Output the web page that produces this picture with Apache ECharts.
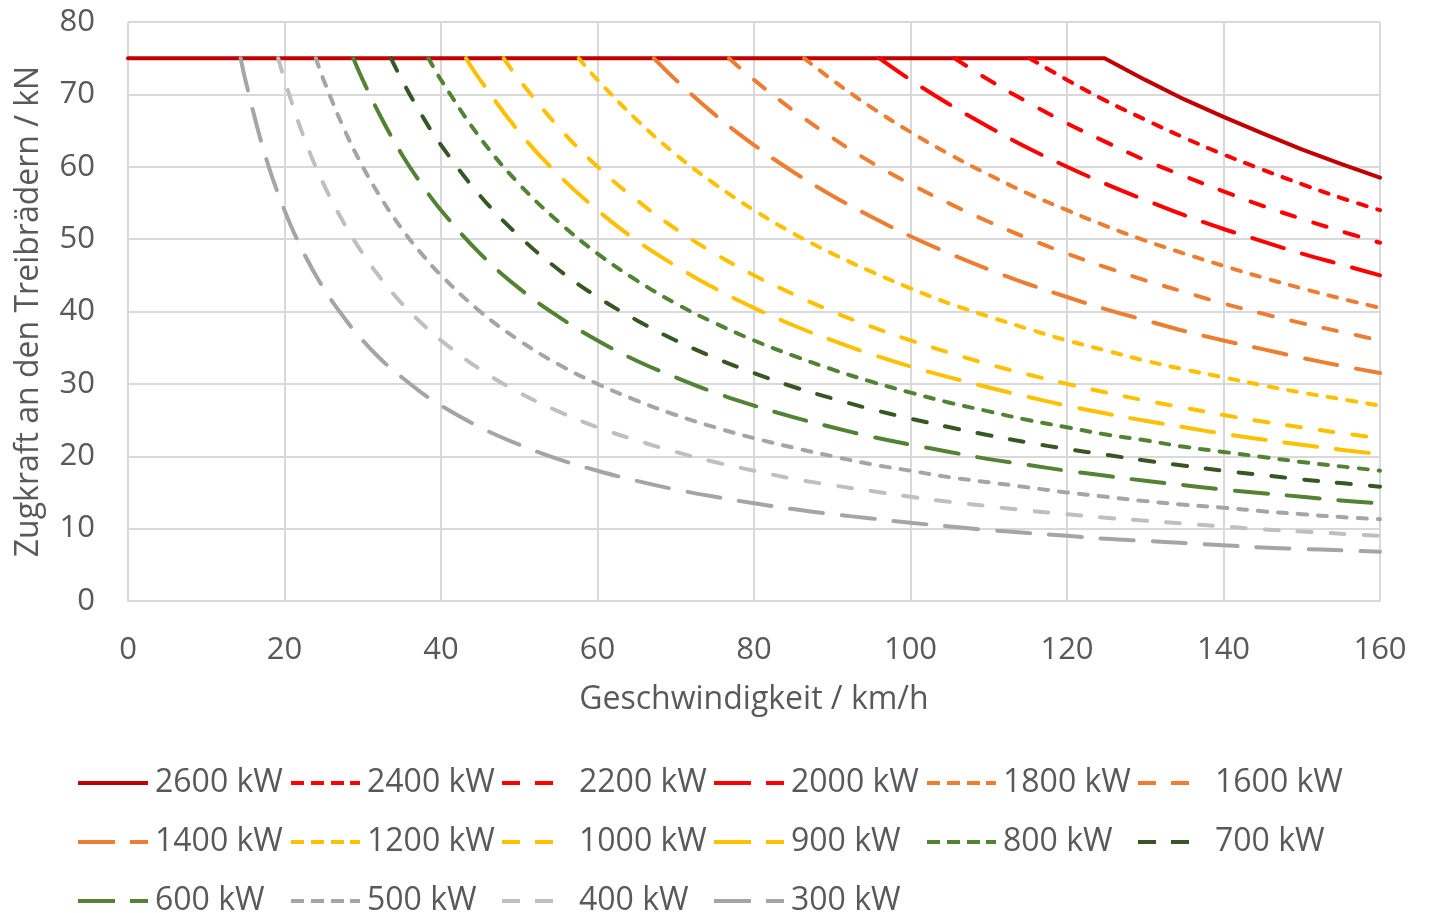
<!DOCTYPE html>
<html>
<head>
<meta charset="utf-8">
<script src="https://cdn.jsdelivr.net/npm/echarts@6/dist/echarts.min.js"></script>
<style>
html,body{margin:0;padding:0;background:#fff;}
#chart{width:1434px;height:913px;}
</style>
</head>
<body>
<div id="chart"></div>
<script>
// ---- data ----
const seriesNames = ['2600 kW','2400 kW','2200 kW','2000 kW','1800 kW','1600 kW','1400 kW','1200 kW','1000 kW','900 kW','800 kW','700 kW','600 kW','500 kW','400 kW','300 kW'];
const maxForce = 75;
const cornerSpeeds = [124.8,115.2,105.6,96,86.4,76.8,67.2,57.6,48,43.2,38.4,33.6,28.8,24,19.2,14.4];
const speeds = [15,17.5,20,22.5,25,27.5,30,32.5,35,37.5,40,45,50,55,60,65,70,75,80,85,90,95,100,105,110,115,120,125,130,135,140,145,150,155,160];
const xTicks = [0,20,40,60,80,100,120,140,160];
const yTicks = [0,10,20,30,40,50,60,70,80];

// tractive force values (kN), aligned with the END of `speeds`
const f2600 = [74.9,72.0,69.3,66.9,64.6,62.4,60.4,58.5];
const f2400 = [72.0,69.1,66.5,64.0,61.7,59.6,57.6,55.7,54.0];
const f2200 = [72.0,68.9,66.0,63.4,60.9,58.7,56.6,54.6,52.8,51.1,49.5];
const f2000 = [72.0,68.6,65.5,62.6,60.0,57.6,55.4,53.3,51.4,49.7,48.0,46.5,45.0];
const f1800 = [72.0,68.2,64.8,61.7,58.9,56.3,54.0,51.8,49.8,48.0,46.3,44.7,43.2,41.8,40.5];
const f1600 = [72.0,67.8,64.0,60.6,57.6,54.9,52.4,50.1,48.0,46.1,44.3,42.7,41.1,39.7,38.4,37.2,36.0];
const f1400 = [72.0,67.2,63.0,59.3,56.0,53.1,50.4,48.0,45.8,43.8,42.0,40.3,38.8,37.3,36.0,34.8,33.6,32.5,31.5];
const f1200 = [72.0,66.5,61.7,57.6,54.0,50.8,48.0,45.5,43.2,41.1,39.3,37.6,36.0,34.6,33.2,32.0,30.9,29.8,28.8,27.9,27.0];
const f1000 = [72.0,65.5,60.0,55.4,51.4,48.0,45.0,42.4,40.0,37.9,36.0,34.3,32.7,31.3,30.0,28.8,27.7,26.7,25.7,24.8,24.0,23.2,22.5];
const f900  = [72.0,64.8,58.9,54.0,49.8,46.3,43.2,40.5,38.1,36.0,34.1,32.4,30.9,29.5,28.2,27.0,25.9,24.9,24.0,23.1,22.3,21.6,20.9,20.3];
const f800  = [72.0,64.0,57.6,52.4,48.0,44.3,41.1,38.4,36.0,33.9,32.0,30.3,28.8,27.4,26.2,25.0,24.0,23.0,22.2,21.3,20.6,19.9,19.2,18.6,18.0];
const f700  = [72.0,67.2,63.0,56.0,50.4,45.8,42.0,38.8,36.0,33.6,31.5,29.6,28.0,26.5,25.2,24.0,22.9,21.9,21.0,20.2,19.4,18.7,18.0,17.4,16.8,16.3,15.8];
const f600  = [72.0,66.5,61.7,57.6,54.0,48.0,43.2,39.3,36.0,33.2,30.9,28.8,27.0,25.4,24.0,22.7,21.6,20.6,19.6,18.8,18.0,17.3,16.6,16.0,15.4,14.9,14.4,13.9,13.5];
const f500  = [72.0,65.5,60.0,55.4,51.4,48.0,45.0,40.0,36.0,32.7,30.0,27.7,25.7,24.0,22.5,21.2,20.0,18.9,18.0,17.1,16.4,15.7,15.0,14.4,13.8,13.3,12.9,12.4,12.0,11.6,11.3];
const f400  = [72.0,64.0,57.6,52.4,48.0,44.3,41.1,38.4,36.0,32.0,28.8,26.2,24.0,22.2,20.6,19.2,18.0,16.9,16.0,15.2,14.4,13.7,13.1,12.5,12.0,11.5,11.1,10.7,10.3,9.9,9.6,9.3,9.0];
const f300  = [72.0,61.7,54.0,48.0,43.2,39.3,36.0,33.2,30.9,28.8,27.0,24.0,21.6,19.6,18.0,16.6,15.4,14.4,13.5,12.7,12.0,11.4,10.8,10.3,9.8,9.4,9.0,8.6,8.3,8.0,7.7,7.4,7.2,7.0,6.8];

const forceLists = [f2600,f2400,f2200,f2000,f1800,f1600,f1400,f1200,f1000,f900,f800,f700,f600,f500,f400,f300];

// ---- styles ----
const colors = ['#C00000','#FF0000','#FF0000','#FF0000','#ED7D31','#ED7D31','#ED7D31','#FFC000','#FFC000','#FFC000','#548235','#375623','#548235','#A5A5A5','#BFBFBF','#A5A5A5'];
const DASH_SHORT = [9, 11];
const DASH_MED = [14, 19];
const DASH_LONG = [33, 19];
const styleKinds = ['solid','short','med','long','short','med','long','short','med','long','short','med','long','short','med','long'];
const dashOf = { solid: 'solid', short: DASH_SHORT, med: DASH_MED, long: DASH_LONG };

// legend icon shapes (70 x 4 box), dashes drawn as bars
function bars(list) {
  let p = 'path://M0,0L0,0M70,4L70,4';
  list.forEach(([a, b]) => { p += 'M' + a + ',0L' + b + ',0L' + b + ',4L' + a + ',4Z'; });
  return p;
}
const legendIcons = {
  solid: bars([[0, 70]]),
  short: bars([[1, 14], [21, 34], [41, 54], [60, 70]]),
  med: bars([[0, 18], [33, 51]]),
  long: bars([[0, 37], [52, 70]])
};

const FONT = 'Open Sans';
const TXT = '#595959';

const series = seriesNames.map((name, i) => {
  const vals = forceLists[i];
  const off = speeds.length - vals.length;
  const data = [];
  if (i === 0) data.push([0, maxForce]);
  data.push([cornerSpeeds[i], maxForce]);
  vals.forEach((v, j) => data.push([speeds[off + j], v]));
  return {
    name: name,
    type: 'line',
    data: data,
    symbol: 'none',
    showSymbol: false,
    smooth: i === 0 ? false : 0.4,
    lineStyle: { color: colors[i], width: 4, type: dashOf[styleKinds[i]], cap: 'round', join: 'round' },
    itemStyle: { color: colors[i] },
    emphasis: { disabled: true },
    z: 2
  };
});

const chart = echarts.init(document.getElementById('chart'), null, { renderer: 'canvas' });
chart.setOption({
  animation: false,
  backgroundColor: '#ffffff',
  grid: { left: 128, right: 54, top: 22, bottom: 312, containLabel: false },
  xAxis: {
    type: 'value', min: xTicks[0], max: xTicks[xTicks.length - 1], interval: 20,
    name: 'Geschwindigkeit / km/h', nameLocation: 'middle', nameGap: 83,
    nameTextStyle: { fontFamily: FONT, fontSize: 32, color: TXT },
    axisLine: { show: true, lineStyle: { color: '#D9D9D9', width: 2 } },
    axisTick: { show: false },
    axisLabel: { fontFamily: FONT, fontSize: 31, color: TXT, margin: 34 },
    splitLine: { show: true, lineStyle: { color: '#D9D9D9', width: 2 } }
  },
  yAxis: {
    type: 'value', min: yTicks[0], max: yTicks[yTicks.length - 1], interval: 10,
    name: 'Zugkraft an den Treibrädern / kN', nameLocation: 'middle', nameGap: 83, nameRotate: 90,
    nameTextStyle: { fontFamily: FONT, fontSize: 32, color: TXT },
    axisLine: { show: false },
    axisTick: { show: false },
    axisLabel: { fontFamily: FONT, fontSize: 31, color: TXT, margin: 33 },
    splitLine: { show: true, lineStyle: { color: '#D9D9D9', width: 2 } }
  },
  legend: {
    data: seriesNames.map((n, i) => ({ name: n, icon: legendIcons[styleKinds[i]], itemStyle: { color: colors[i] } })),
    left: 78, top: 757, width: 1290, padding: 0,
    itemWidth: 70, itemHeight: 14, itemGap: 7,
    selectedMode: false,
    textStyle: { fontFamily: FONT, fontSize: 32, color: TXT, width: 128, lineHeight: 52, padding: [0, 0, 0, 2] }
  },
  series: series
});
</script>
</body>
</html>
